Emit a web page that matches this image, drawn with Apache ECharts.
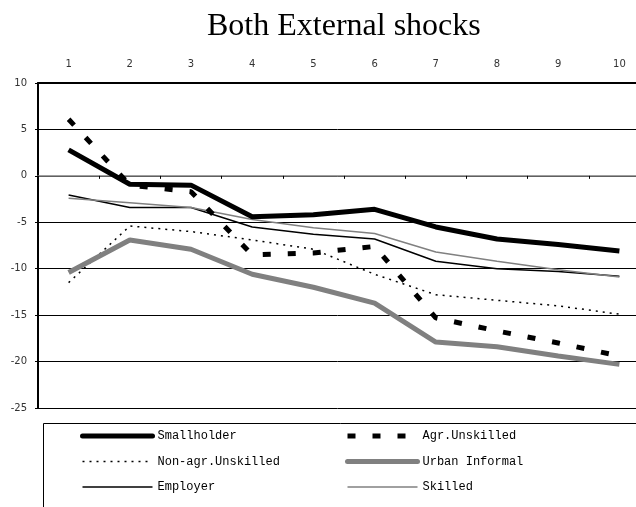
<!DOCTYPE html>
<html>
<head>
<meta charset="utf-8">
<script src="https://cdn.jsdelivr.net/npm/echarts@6/dist/echarts.min.js"></script>
<style>
  html, body { margin: 0; padding: 0; background: #fff; }
  #chart { width: 636px; height: 507px; }
</style>
</head>
<body>
<div id="chart"></div>
<script>
// categories along the top axis
var periods = ["1", "2", "3", "4", "5", "6", "7", "8", "9", "10"];

// series values
var smallholder = [2.8, -0.9, -1.0, -4.4, -4.2, -3.6, -5.5, -6.8, -7.4, -8.1];
var agrUnskilled = [6.1, -1.0, -1.7, -8.5, -8.3, -7.6, -15.3, -16.7, -18.0, -19.4];
var nonAgrUnskilled = [-11.5, -5.4, -6.0, -6.9, -7.9, -10.6, -12.8, -13.4, -14.0, -14.9];
var urbanInformal = [-10.4, -6.9, -7.9, -10.6, -12.0, -13.7, -17.9, -18.4, -19.4, -20.3];
var employer = [-2.05, -3.4, -3.4, -5.5, -6.3, -6.8, -9.2, -10.0, -10.3, -10.8];
var skilled = [-2.4, -2.9, -3.4, -4.7, -5.6, -6.2, -8.2, -9.2, -10.1, -10.9];

var chart = echarts.init(document.getElementById("chart"));

var legendText = { fontFamily: "Liberation Mono", fontSize: 12, color: "#000" };

var option = {
    animation: false,
    backgroundColor: "#fff",
    title: {
        text: "Both External shocks",
        left: 207,
        top: 11,
        padding: 0,
        textStyle: {
            fontFamily: "Liberation Serif",
            fontSize: 32,
            fontWeight: "normal",
            color: "#000"
        }
    },
    grid: {
        left: 38,
        width: 612,
        top: 83,
        height: 325,
        outerBoundsMode: "none"
    },
    xAxis: [
        {
            // labels on top, top border line
            type: "category",
            data: periods,
            position: "top",
            axisLine: { show: true, onZero: false, lineStyle: { color: "#000", width: 2 } },
            axisTick: { show: false },
            axisLabel: {
                margin: 14,
                fontFamily: "DejaVu Sans",
                fontSize: 10,
                color: "#333"
            }
        },
        {
            // the crossing line at zero with ticks between categories
            type: "category",
            data: periods,
            position: "bottom",
            axisLine: { show: true, onZero: true, lineStyle: { color: "#808080", width: 1.5 } },
            axisTick: { show: true, length: 3, lineStyle: { color: "#000", width: 1 } },
            axisLabel: { show: false }
        }
    ],
    yAxis: {
        type: "value",
        min: -25,
        max: 10,
        interval: 5,
        axisLine: { show: true, lineStyle: { color: "#000", width: 2 } },
        axisTick: { show: true, length: 3, lineStyle: { color: "#000" } },
        axisLabel: {
            margin: 11,
            fontFamily: "DejaVu Sans",
            fontSize: 10,
            color: "#333"
        },
        splitLine: { show: true, lineStyle: { color: "#000", width: 1 } }
    },
    legend: [
        {
            orient: "vertical",
            left: 80,
            top: 430,
            padding: 0,
            itemWidth: 70,
            itemHeight: 14,
            itemGap: 13.5,
            itemStyle: { opacity: 0 },
            data: [
                { name: "Smallholder", lineStyle: { width: 5, color: "#000", cap: "round" } },
                { name: "Non-agr.Unskilled", lineStyle: { width: 1.5, color: "#000", type: [2, 5] } },
                { name: "Employer", lineStyle: { width: 1.5, color: "#000" } }
            ],
            textStyle: legendText
        },
        {
            orient: "vertical",
            left: 345,
            top: 430,
            padding: 0,
            itemWidth: 70,
            itemHeight: 14,
            itemGap: 13.5,
            itemStyle: { opacity: 0 },
            data: [
                { name: "Agr.Unskilled", lineStyle: { width: 5, color: "#000", type: [8, 17] } },
                { name: "Urban Informal", lineStyle: { width: 5, color: "#808080", cap: "round" } },
                { name: "Skilled", lineStyle: { width: 1.5, color: "#808080" } }
            ],
            textStyle: legendText
        }
    ],
    graphic: [
        {
            type: "rect",
            shape: { x: 43.5, y: 423.5, width: 700, height: 100 },
            style: { fill: "none", stroke: "#000", lineWidth: 1 },
            silent: true
        }
    ],
    series: [
        {
            name: "Smallholder",
            type: "line",
            data: smallholder,
            symbol: "none",
            lineStyle: { color: "#000", width: 5 },
            itemStyle: { color: "#000" },
            z: 5
        },
        {
            name: "Agr.Unskilled",
            type: "line",
            data: agrUnskilled,
            symbol: "none",
            lineStyle: { color: "#000", width: 5, type: [8, 17] },
            itemStyle: { color: "#000" },
            z: 4
        },
        {
            name: "Non-agr.Unskilled",
            type: "line",
            data: nonAgrUnskilled,
            symbol: "none",
            lineStyle: { color: "#000", width: 1.5, type: [2, 5] },
            itemStyle: { color: "#000" },
            z: 3
        },
        {
            name: "Urban Informal",
            type: "line",
            data: urbanInformal,
            symbol: "none",
            lineStyle: { color: "#808080", width: 5 },
            itemStyle: { color: "#808080" },
            z: 3
        },
        {
            name: "Employer",
            type: "line",
            data: employer,
            symbol: "none",
            lineStyle: { color: "#000", width: 1.5 },
            itemStyle: { color: "#000" },
            z: 3
        },
        {
            name: "Skilled",
            type: "line",
            data: skilled,
            symbol: "none",
            lineStyle: { color: "#808080", width: 1.5 },
            itemStyle: { color: "#808080" },
            z: 3
        }
    ]
};

chart.setOption(option);
</script>
</body>
</html>
